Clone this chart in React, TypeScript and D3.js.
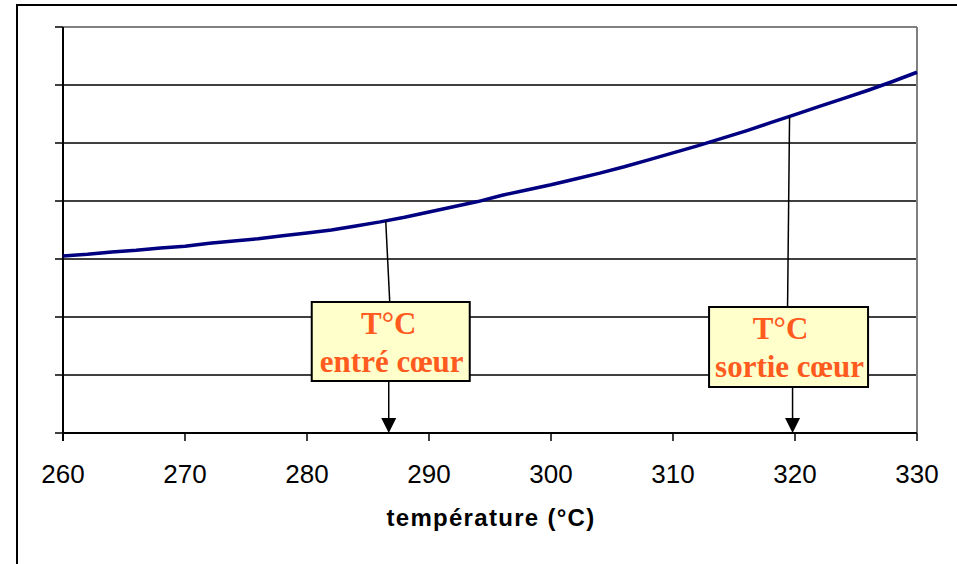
import React from "react";
import * as d3 from "d3";

const temps = [260, 262, 264, 266, 268, 270, 272, 274, 276, 278, 280, 282, 284, 286, 288, 290, 292, 294, 296, 298, 300, 302, 304, 306, 308, 310, 312, 314, 316, 318, 320, 322, 324, 326, 328, 330];
const values = [3.05, 3.08, 3.12, 3.15, 3.19, 3.22, 3.27, 3.31, 3.35, 3.40, 3.45, 3.50, 3.57, 3.64, 3.72, 3.81, 3.90, 3.99, 4.10, 4.19, 4.28, 4.38, 4.48, 4.59, 4.71, 4.83, 4.95, 5.08, 5.21, 5.35, 5.49, 5.63, 5.77, 5.91, 6.06, 6.22];
const xTicks = [260, 270, 280, 290, 300, 310, 320, 330];
const yTicks = [0, 1, 2, 3, 4, 5, 6, 7];
const xTitle = "température (°C)";
const annotTemps = [286.7, 319.8];
const annotLine1 = ["T°C", "T°C"];
const annotLine2 = ["entré cœur", "sortie cœur"];

const L = 63, R = 917, T = 27, B = 433;

export default function App() {
  const x = d3.scaleLinear().domain([260, 330]).range([L, R]);
  const y = d3.scaleLinear().domain([0, 7]).range([B, T]);
  const pts: [number, number][] = temps.map((t, i) => [t, values[i]]);
  const line = d3.line<[number, number]>().x(d => x(d[0])).y(d => y(d[1]));
  const interp = (t: number) => {
    const i = d3.bisectLeft(temps, t);
    if (i <= 0) return values[0];
    const t0 = temps[i - 1], t1 = temps[i];
    return values[i - 1] + (values[i] - values[i - 1]) * (t - t0) / (t1 - t0);
  };
  const boxes = [
    { dx: 2, top: 302, w: 158, h: 79, tx: 2 },
    { dx: -4, top: 307, w: 159, h: 80, tx: -4 },
  ];
  return (
    <svg width={957} height={564} style={{ position: "absolute", left: 0, top: 0, background: "#fff" }}>
      <rect x={17} y={5} width={1000} height={1000} fill="#fff" stroke="#000" strokeWidth={2} />
      {yTicks.slice(1, -1).map(v => (
        <line key={"g" + v} x1={L} x2={R} y1={y(v)} y2={y(v)} stroke="#000" strokeWidth={1.5} />
      ))}
      <line x1={L} x2={R} y1={T} y2={T} stroke="#808080" strokeWidth={2} />
      <line x1={R} x2={R} y1={T} y2={B} stroke="#808080" strokeWidth={2} />
      {yTicks.map(v => (
        <line key={"yt" + v} x1={L - 8} x2={L} y1={y(v)} y2={y(v)} stroke="#000" strokeWidth={1.5} />
      ))}
      {xTicks.map(v => (
        <line key={"xt" + v} x1={x(v)} x2={x(v)} y1={B} y2={B + 8} stroke="#000" strokeWidth={1.5} />
      ))}
      <line x1={L} x2={R} y1={B} y2={B} stroke="#000" strokeWidth={2} />
      <line x1={L} x2={L} y1={T} y2={B + 8} stroke="#000" strokeWidth={2} />
      <path d={line(pts) || ""} fill="none" stroke="#000080" strokeWidth={3.5} strokeLinejoin="round" />
      {xTicks.map(v => (
        <text key={"xl" + v} x={x(v)} y={483} textAnchor="middle" fontFamily="Liberation Sans, Arial, sans-serif" fontSize={26} fill="#000">{v}</text>
      ))}
      <text x={(L + R) / 2 + 1} y={526} textAnchor="middle" fontFamily="Liberation Sans, Arial, sans-serif" fontSize={24} fontWeight="bold" letterSpacing={1.3} fill="#000">{xTitle}</text>
      {annotTemps.map((t, i) => {
        const ax = x(t);
        const b = boxes[i];
        const cx = ax + b.dx;
        const ly = y(interp(t - 0.3));
        return (
          <g key={"a" + i}>
            <line x1={ax - 3} y1={ly} x2={cx - 1} y2={b.top} stroke="#000" strokeWidth={1.5} />
            <line x1={ax} y1={b.top + b.h} x2={ax} y2={B - 14} stroke="#000" strokeWidth={1.5} />
            <path d={`M${ax - 7.5},${B - 15} L${ax + 7.5},${B - 15} L${ax},${B} Z`} fill="#000" />
            <rect x={cx - b.w / 2} y={b.top} width={b.w} height={b.h} fill="#FFFFCC" stroke="#000" strokeWidth={2} />
            <text x={cx + b.tx - 4} y={b.top + 32} textAnchor="middle" fontFamily="Liberation Serif, Times New Roman, serif" fontWeight="bold" fontSize={31} fill="#FF5B1F">{annotLine1[i]}</text>
            <text x={cx + 1} y={b.top + 70} textAnchor="middle" fontFamily="Liberation Serif, Times New Roman, serif" fontWeight="bold" fontSize={31} fill="#FF5B1F">{annotLine2[i]}</text>
          </g>
        );
      })}
    </svg>
  );
}
